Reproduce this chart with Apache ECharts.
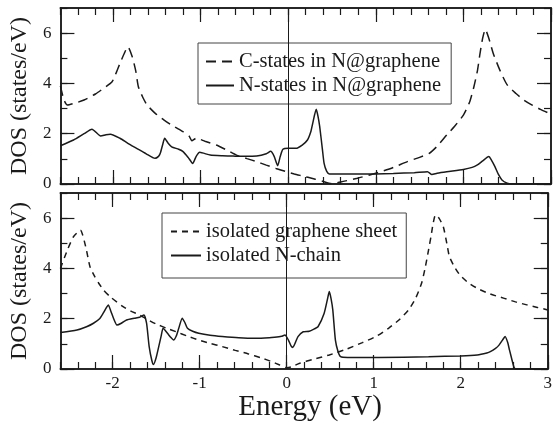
<!DOCTYPE html>
<html>
<head>
<meta charset="utf-8">
<script src="https://cdn.jsdelivr.net/npm/echarts@6/dist/echarts.min.js"></script>
<style>
  html, body { margin: 0; padding: 0; background: #fff; }
  #main { width: 555px; height: 425px; }
</style>
</head>
<body>
<div id="main"></div>
<script>
// energy (eV), DOS (states/eV) pairs
var cStates = [[-2.6,3.9],[-2.56,3.35],[-2.52,3.14],[-2.43,3.22],[-2.33,3.34],[-2.2,3.58],[-2.11,3.8],[-2.01,4.07],[-1.96,4.45],[-1.92,4.8],[-1.87,5.2],[-1.83,5.46],[-1.78,5.06],[-1.74,4.5],[-1.71,3.87],[-1.66,3.45],[-1.61,3.14],[-1.52,2.82],[-1.42,2.55],[-1.31,2.3],[-1.2,2.08],[-1.13,1.9],[-1.1,1.72],[-1.05,1.82],[-0.95,1.7],[-0.82,1.55],[-0.7,1.35],[-0.59,1.15],[-0.47,1.01],[-0.36,0.89],[-0.25,0.75],[-0.14,0.62],[-0.03,0.5],[0.07,0.4],[0.15,0.33],[0.3,0.2],[0.4,0.1],[0.49,0.02],[0.6,0.08],[0.79,0.23],[0.92,0.35],[1.06,0.49],[1.2,0.66],[1.36,0.89],[1.5,1.06],[1.61,1.22],[1.7,1.5],[1.81,1.95],[1.9,2.3],[2.0,2.74],[2.07,3.25],[2.12,3.87],[2.16,4.5],[2.19,5.2],[2.22,5.8],[2.25,6.15],[2.29,5.8],[2.34,5.2],[2.42,4.5],[2.5,3.94],[2.6,3.6],[2.69,3.34],[2.78,3.15],[2.88,2.97],[3.0,2.78]];
var nStates = [[-2.6,1.52],[-2.45,1.75],[-2.33,2.0],[-2.24,2.18],[-2.14,1.91],[-2.08,1.96],[-2.03,1.98],[-1.92,1.82],[-1.83,1.62],[-1.73,1.42],[-1.62,1.2],[-1.52,1.02],[-1.48,1.1],[-1.46,1.22],[-1.43,1.6],[-1.41,1.82],[-1.37,1.62],[-1.33,1.48],[-1.25,1.38],[-1.2,1.29],[-1.14,1.05],[-1.09,0.82],[-1.05,1.1],[-1.01,1.26],[-0.89,1.15],[-0.75,1.12],[-0.63,1.11],[-0.5,1.1],[-0.36,1.11],[-0.25,1.2],[-0.2,1.3],[-0.16,1.1],[-0.12,0.73],[-0.09,1.1],[-0.06,1.38],[0.0,1.42],[0.09,1.42],[0.16,1.55],[0.22,1.75],[0.26,2.1],[0.28,2.41],[0.32,2.97],[0.34,2.7],[0.36,2.28],[0.39,1.4],[0.41,0.82],[0.44,0.5],[0.47,0.4],[0.6,0.4],[0.87,0.4],[1.2,0.42],[1.44,0.45],[1.59,0.49],[1.64,0.38],[1.7,0.43],[1.81,0.49],[2.0,0.58],[2.1,0.66],[2.16,0.76],[2.22,0.92],[2.29,1.09],[2.32,0.95],[2.36,0.69],[2.4,0.38],[2.44,0.16],[2.5,0.03],[2.55,0.0],[3.0,0.0]];
var graphene = [[-2.6,4.0],[-2.52,4.73],[-2.45,5.26],[-2.37,5.52],[-2.31,4.87],[-2.26,4.07],[-2.21,3.7],[-2.16,3.41],[-2.1,3.12],[-2.03,2.88],[-1.95,2.66],[-1.88,2.48],[-1.79,2.3],[-1.69,2.15],[-1.6,1.97],[-1.5,1.79],[-1.38,1.62],[-1.27,1.48],[-1.14,1.31],[-1.01,1.15],[-0.88,1.02],[-0.74,0.89],[-0.59,0.74],[-0.44,0.6],[-0.3,0.45],[-0.17,0.29],[-0.08,0.16],[0.0,0.05],[0.05,0.08],[0.15,0.23],[0.3,0.38],[0.49,0.56],[0.68,0.78],[0.87,1.05],[1.03,1.3],[1.17,1.62],[1.29,1.95],[1.4,2.35],[1.48,2.8],[1.55,3.41],[1.59,4.0],[1.63,4.73],[1.66,5.3],[1.68,5.73],[1.71,6.13],[1.75,6.0],[1.8,5.66],[1.84,5.0],[1.87,4.47],[1.93,4.05],[1.99,3.74],[2.08,3.45],[2.19,3.21],[2.34,2.98],[2.5,2.81],[2.63,2.67],[2.76,2.55],[2.88,2.45],[3.0,2.35]];
var nChain = [[-2.6,1.45],[-2.41,1.55],[-2.3,1.68],[-2.22,1.82],[-2.15,2.0],[-2.11,2.21],[-2.07,2.45],[-2.05,2.55],[-2.02,2.3],[-1.99,2.02],[-1.95,1.75],[-1.9,1.82],[-1.84,1.95],[-1.75,2.02],[-1.69,2.06],[-1.64,2.15],[-1.61,1.82],[-1.58,0.89],[-1.55,0.35],[-1.53,0.18],[-1.5,0.45],[-1.47,0.89],[-1.44,1.35],[-1.42,1.62],[-1.37,1.42],[-1.33,1.25],[-1.3,1.15],[-1.27,1.3],[-1.24,1.62],[-1.2,2.02],[-1.17,1.85],[-1.14,1.62],[-1.08,1.5],[-1.01,1.42],[-0.88,1.34],[-0.74,1.29],[-0.55,1.24],[-0.36,1.22],[-0.2,1.24],[-0.14,1.26],[-0.06,1.3],[-0.02,1.35],[0.02,1.15],[0.05,0.92],[0.07,0.86],[0.1,1.05],[0.13,1.29],[0.19,1.48],[0.26,1.5],[0.32,1.6],[0.36,1.68],[0.43,2.21],[0.47,2.8],[0.49,3.08],[0.51,2.8],[0.53,2.35],[0.56,1.15],[0.59,0.7],[0.62,0.49],[0.7,0.46],[1.06,0.46],[1.63,0.49],[2.0,0.52],[2.19,0.56],[2.3,0.64],[2.34,0.69],[2.4,0.82],[2.44,0.95],[2.48,1.15],[2.51,1.29],[2.54,1.05],[2.56,0.76],[2.59,0.35],[2.61,0.09],[2.63,0.0],[3.0,0.0]];

var xMajor = [-2, -1, 0, 1, 2, 3];
var yMajor = [0, 2, 4, 6];
var namesTop = ['C-states in N@graphene', 'N-states in N@graphene'];
var namesBottom = ['isolated graphene sheet', 'isolated N-chain'];

var serif = "'Liberation Serif', 'DejaVu Serif', serif";
var ink = '#1a1a1a';
// ticks only get drawn when the axis line is on, so the axis lines make the frame
var frame = { show: true, onZero: false, lineStyle: { color: ink, width: 1.5 } };
var tickStyle = { color: ink, width: 1.2 };

// 4 x axes per panel: minor/major ticks at bottom and top
function xAxes(g, withLabels) {
	var base = { gridIndex: g, type: 'value', min: -2.6, max: 3, splitLine: { show: false }, axisLine: frame };
	return [
		Object.assign({}, base, { position: 'bottom', interval: 0.2,
			axisTick: { show: true, inside: true, length: 7, lineStyle: tickStyle },
			axisLabel: { show: false } }),
		Object.assign({}, base, { position: 'bottom',
			axisTick: { show: true, inside: true, length: 14, customValues: xMajor, lineStyle: tickStyle },
			axisLabel: { show: withLabels, customValues: xMajor, margin: 6, fontFamily: serif, fontSize: 17, color: ink },
			name: withLabels ? 'Energy (eV)' : '', nameLocation: 'middle', nameGap: 22,
			nameTextStyle: { fontFamily: serif, fontSize: 29, color: ink, padding: [0, 0, 0, 12] } }),
		Object.assign({}, base, { position: 'top', interval: 0.2,
			axisTick: { show: true, inside: true, length: 7, lineStyle: tickStyle },
			axisLabel: { show: false } }),
		Object.assign({}, base, { position: 'top',
			axisTick: { show: true, inside: true, length: 14, customValues: xMajor, lineStyle: tickStyle },
			axisLabel: { show: false } })
	];
}

function yAxes(g) {
	var base = { gridIndex: g, type: 'value', min: 0, max: 7, splitLine: { show: false }, axisLine: frame };
	return [
		Object.assign({}, base, { position: 'left', interval: 1,
			axisTick: { show: true, inside: true, length: 7, lineStyle: tickStyle },
			axisLabel: { customValues: yMajor, margin: 9, fontFamily: serif, fontSize: 17, color: ink },
			name: 'DOS (states/eV)', nameLocation: 'middle', nameGap: 18,
			nameTextStyle: { fontFamily: serif, fontSize: 24, color: ink } }),
		Object.assign({}, base, { position: 'left',
			axisTick: { show: true, inside: true, length: 14, customValues: yMajor, lineStyle: tickStyle },
			axisLabel: { show: false } }),
		Object.assign({}, base, { position: 'right', interval: 1,
			axisTick: { show: true, inside: true, length: 7, lineStyle: tickStyle },
			axisLabel: { show: false } }),
		Object.assign({}, base, { position: 'right',
			axisTick: { show: true, inside: true, length: 14, customValues: yMajor, lineStyle: tickStyle },
			axisLabel: { show: false } })
	];
}

function line(name, data, axis, dash) {
	return {
		name: name,
		type: 'line',
		data: data,
		xAxisIndex: axis,
		yAxisIndex: axis,
		symbol: 'none',
		smooth: 0.2,
		itemStyle: { color: ink },
		lineStyle: { color: ink, width: 1.5, type: dash }
	};
}

var zeroLine = {
	silent: true,
	symbol: ['none', 'none'],
	label: { show: false },
	lineStyle: { color: ink, width: 1, type: 'solid' },
	data: [{ xAxis: 0 }]
};

var legendBase = {
	orient: 'vertical',
	itemWidth: 28,
	itemHeight: 14,
	itemGap: 3,
	borderColor: '#444',
	borderWidth: 1,
	borderRadius: 0,
	itemStyle: { color: 'transparent', borderWidth: 0 },
	textStyle: { fontFamily: serif, fontSize: 20.5, color: ink, lineHeight: 20 }
};

var myChart = echarts.init(document.getElementById('main'));
var option = {
	animation: false,
	backgroundColor: '#fff',
	grid: [
		{ left: 57, top: 8, width: 494, height: 176 },
		{ left: 57, top: 193, width: 494, height: 176 }
	],
	legend: [
		Object.assign({}, legendBase, { data: namesTop, left: 198, top: 43, padding: [8, 10, 8, 7] }),
		Object.assign({}, legendBase, { data: namesBottom, left: 162, top: 213, itemWidth: 30, padding: [8, 9, 12, 8] })
	],
	xAxis: xAxes(0, false).concat(xAxes(1, true)),
	yAxis: yAxes(0).concat(yAxes(1)),
	series: [
		line(namesTop[0], cStates, 0, [10, 6]),
		Object.assign(line(namesTop[1], nStates, 0, 'solid'), { markLine: zeroLine }),
		line(namesBottom[0], graphene, 4, [6, 5]),
		Object.assign(line(namesBottom[1], nChain, 4, 'solid'), { markLine: zeroLine })
	]
};
myChart.setOption(option);
</script>
</body>
</html>
